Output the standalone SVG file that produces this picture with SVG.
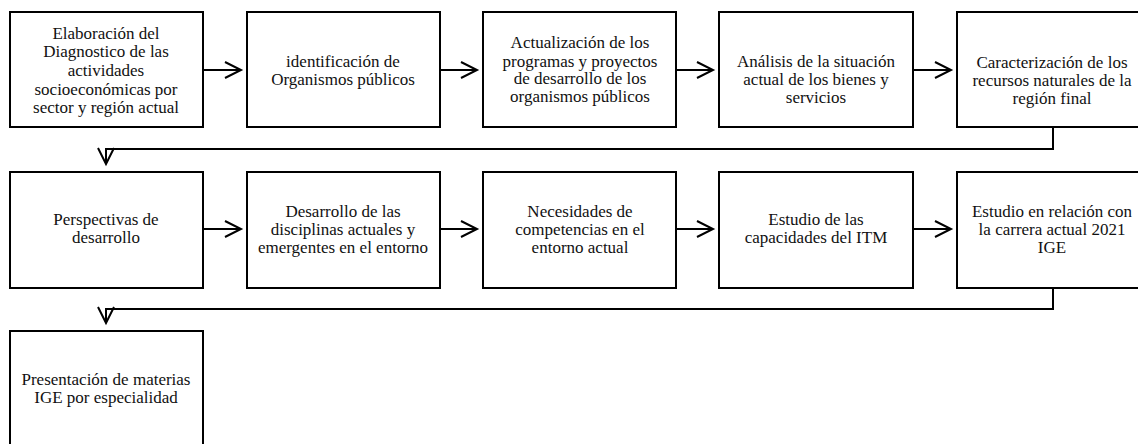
<svg xmlns="http://www.w3.org/2000/svg" width="1138" height="444" viewBox="0 0 1138 444">
<style>
.box{fill:#fff;stroke:#000;stroke-width:2}
.t{font-family:'Liberation Serif',Tinos,'Times New Roman','DejaVu Serif',serif;font-size:17px;fill:#111;text-anchor:middle}
.c{fill:none;stroke:#000;stroke-width:2}
</style>
<defs>
<marker id="arr" markerUnits="userSpaceOnUse" markerWidth="24" markerHeight="24" refX="0" refY="0" viewBox="-20 -12 24 24" orient="auto" overflow="visible">
<path d="M-16,-8 L0,0 L-16,8" fill="none" stroke="#000" stroke-width="2"/>
</marker>
</defs>
<rect width="1138" height="444" fill="#fff"/>
<g id="connectors">
<line class="c" x1="203" y1="70" x2="241" y2="70" marker-end="url(#arr)"/>
<line class="c" x1="440" y1="70" x2="477" y2="70" marker-end="url(#arr)"/>
<line class="c" x1="676" y1="70" x2="713" y2="70" marker-end="url(#arr)"/>
<line class="c" x1="913" y1="70" x2="951" y2="70" marker-end="url(#arr)"/>
<polyline class="c" points="1053,127 1053,149 106,149 106,164" marker-end="url(#arr)"/>
<line class="c" x1="203" y1="229" x2="241" y2="229" marker-end="url(#arr)"/>
<line class="c" x1="440" y1="229" x2="477" y2="229" marker-end="url(#arr)"/>
<line class="c" x1="676" y1="229" x2="713" y2="229" marker-end="url(#arr)"/>
<line class="c" x1="913" y1="229" x2="951" y2="229" marker-end="url(#arr)"/>
<polyline class="c" points="1053,288 1053,309 106,309 106,323" marker-end="url(#arr)"/>
</g>
<g font-family="Liberation Serif, Tinos, Times New Roman, DejaVu Serif, serif">
<g id="n1"><rect class="box" x="10" y="12" width="193" height="115"/>
<text class="t" x="106" y="39">Elaboración del</text>
<text class="t" x="106" y="57">Diagnostico de las</text>
<text class="t" x="106" y="76">actividades</text>
<text class="t" x="106" y="95">socioeconómicas por</text>
<text class="t" x="106" y="113">sector y región actual</text></g>
<g id="n2"><rect class="box" x="247" y="12" width="193" height="115"/>
<text class="t" x="343" y="67">identificación de</text>
<text class="t" x="343" y="85">Organismos públicos</text></g>
<g id="n3"><rect class="box" x="483" y="12" width="193" height="115"/>
<text class="t" x="580" y="48">Actualización de los</text>
<text class="t" x="580" y="67">programas y proyectos</text>
<text class="t" x="580" y="84">de desarrollo de los</text>
<text class="t" x="580" y="102">organismos públicos</text></g>
<g id="n4"><rect class="box" x="719" y="12" width="194" height="115"/>
<text class="t" x="816" y="67">Análisis de la situación</text>
<text class="t" x="816" y="85">actual de los bienes y</text>
<text class="t" x="816" y="103">servicios</text></g>
<g id="n5"><rect class="box" x="957" y="12" width="193" height="115"/>
<text class="t" x="1052" y="68">Caracterización de los</text>
<text class="t" x="1052" y="86">recursos naturales de la</text>
<text class="t" x="1052" y="104">región final</text></g>
<g id="n6"><rect class="box" x="10" y="172" width="193" height="116"/>
<text class="t" x="106" y="225">Perspectivas de</text>
<text class="t" x="106" y="243">desarrollo</text></g>
<g id="n7"><rect class="box" x="247" y="172" width="193" height="116"/>
<text class="t" x="343" y="217">Desarrollo de las</text>
<text class="t" x="343" y="235">disciplinas actuales y</text>
<text class="t" x="343" y="253">emergentes en el entorno</text></g>
<g id="n8"><rect class="box" x="483" y="172" width="193" height="116"/>
<text class="t" x="580" y="217">Necesidades de</text>
<text class="t" x="580" y="235">competencias en el</text>
<text class="t" x="580" y="253">entorno actual</text></g>
<g id="n9"><rect class="box" x="719" y="172" width="194" height="116"/>
<text class="t" x="816" y="225">Estudio de las</text>
<text class="t" x="816" y="243">capacidades del ITM</text></g>
<g id="n10"><rect class="box" x="957" y="172" width="193" height="116"/>
<text class="t" x="1052" y="217">Estudio en relación con</text>
<text class="t" x="1052" y="235">la carrera actual 2021</text>
<text class="t" x="1052" y="253">IGE</text></g>
<g id="n11"><rect class="box" x="10" y="331" width="193" height="120"/>
<text class="t" x="106" y="385">Presentación de materias</text>
<text class="t" x="106" y="403">IGE por especialidad</text></g>
</g>
</svg>
